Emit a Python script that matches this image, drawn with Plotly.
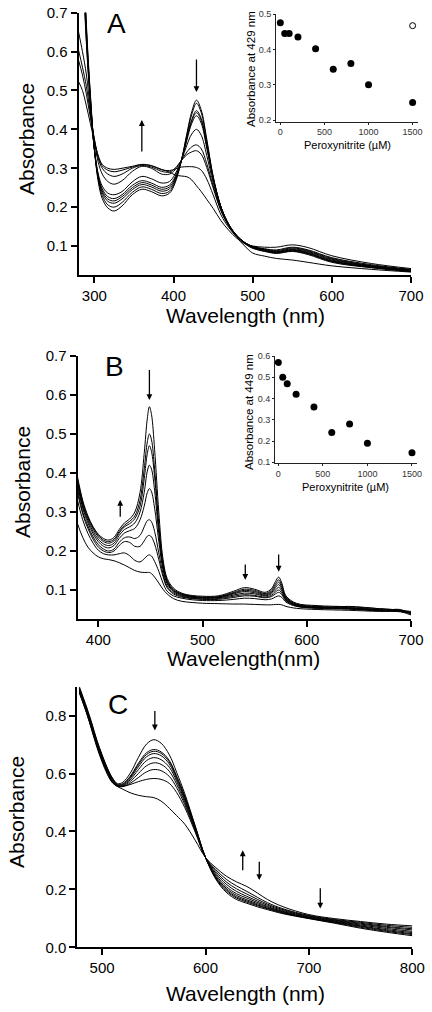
import plotly.graph_objects as go

W, H = 432, 1012
FONT = "Arial, Liberation Sans, sans-serif"

# ---------------- Panel A data ----------------
WL_A = [280, 285, 290, 295, 300, 305, 310, 317, 325, 335, 348, 360, 372, 385, 395,
        402, 410, 417, 423, 429, 435, 442, 450, 460, 470, 480, 490, 500,
        515, 530, 550, 570, 600, 650, 700]
A1 = [1.3, 0.95, 0.67, 0.49, 0.35, 0.265, 0.222, 0.198, 0.19, 0.203, 0.232, 0.246, 0.24, 0.229, 0.236,
      0.262, 0.32, 0.39, 0.445, 0.475, 0.45, 0.375, 0.28, 0.2, 0.152, 0.122, 0.1, 0.082,
      0.074, 0.068, 0.064, 0.058, 0.049, 0.04, 0.033]
A2 = [1.25, 0.93, 0.66, 0.485, 0.35, 0.27, 0.23, 0.206, 0.20, 0.212, 0.238, 0.252, 0.246, 0.235, 0.241,
      0.266, 0.32, 0.387, 0.438, 0.467, 0.443, 0.37, 0.279, 0.2, 0.154, 0.125, 0.106, 0.094,
      0.086, 0.081, 0.086, 0.078, 0.058, 0.044, 0.034]
A3 = [1.2, 0.9, 0.65, 0.48, 0.35, 0.275, 0.237, 0.215, 0.21, 0.221, 0.245, 0.258, 0.252, 0.241, 0.247,
      0.27, 0.32, 0.38, 0.425, 0.448, 0.428, 0.36, 0.276, 0.2, 0.155, 0.126, 0.107, 0.095,
      0.087, 0.082, 0.087, 0.08, 0.06, 0.045, 0.035]
A4 = [1.15, 0.88, 0.64, 0.475, 0.35, 0.278, 0.242, 0.221, 0.216, 0.227, 0.25, 0.263, 0.257, 0.246, 0.252,
      0.274, 0.32, 0.377, 0.421, 0.443, 0.423, 0.357, 0.275, 0.2, 0.155, 0.126, 0.108, 0.096,
      0.088, 0.083, 0.089, 0.081, 0.061, 0.046, 0.035]
A5 = [1.1, 0.86, 0.63, 0.47, 0.35, 0.28, 0.247, 0.227, 0.222, 0.232, 0.256, 0.268, 0.262, 0.251, 0.257,
      0.278, 0.32, 0.373, 0.415, 0.435, 0.416, 0.352, 0.273, 0.2, 0.155, 0.127, 0.108, 0.097,
      0.089, 0.084, 0.09, 0.082, 0.062, 0.047, 0.036]
A6 = [1.05, 0.83, 0.62, 0.465, 0.35, 0.285, 0.254, 0.236, 0.232, 0.24, 0.265, 0.279, 0.273, 0.262, 0.266,
      0.285, 0.32, 0.36, 0.388, 0.40, 0.385, 0.333, 0.264, 0.196, 0.154, 0.127, 0.109, 0.098,
      0.09, 0.085, 0.091, 0.084, 0.064, 0.048, 0.037]
A7 = [0.651, 0.6, 0.54, 0.45, 0.37, 0.315, 0.285, 0.266, 0.259, 0.268, 0.292, 0.305, 0.3, 0.285, 0.285,
      0.296, 0.32, 0.342, 0.355, 0.36, 0.35, 0.312, 0.255, 0.192, 0.152, 0.126, 0.109, 0.098,
      0.091, 0.086, 0.093, 0.086, 0.066, 0.049, 0.038]
A8 = [0.604, 0.56, 0.51, 0.44, 0.375, 0.325, 0.3, 0.285, 0.279, 0.285, 0.3, 0.307, 0.303, 0.292, 0.29,
      0.3, 0.32, 0.335, 0.342, 0.345, 0.336, 0.302, 0.25, 0.19, 0.151, 0.126, 0.109, 0.099,
      0.092, 0.088, 0.095, 0.088, 0.068, 0.05, 0.039]
A9 = [0.578, 0.54, 0.49, 0.43, 0.375, 0.33, 0.306, 0.295, 0.291, 0.295, 0.303, 0.309, 0.306, 0.296, 0.294,
      0.298, 0.303, 0.304, 0.304, 0.302, 0.295, 0.272, 0.232, 0.18, 0.147, 0.124, 0.108, 0.099,
      0.093, 0.09, 0.097, 0.09, 0.07, 0.052, 0.04]
A10 = [0.523, 0.5, 0.46, 0.415, 0.37, 0.332, 0.31, 0.3, 0.297, 0.3, 0.305, 0.31, 0.307, 0.297, 0.29,
       0.283, 0.28, 0.278, 0.27, 0.255, 0.24, 0.22, 0.197, 0.165, 0.14, 0.12, 0.106, 0.1,
       0.097, 0.097, 0.103, 0.096, 0.075, 0.055, 0.042]
SPECTRA_A = [A1, A2, A3, A4, A5, A6, A7, A8, A9, A10]

# Inset A
PN_A = [0, 50, 100, 200, 400, 600, 800, 1000, 1500]
ABS429 = [0.475, 0.445, 0.445, 0.435, 0.402, 0.344, 0.36, 0.30, 0.25]
PN_A_OPEN = [1500]
ABS429_OPEN = [0.467]

# ---------------- Panel B data ----------------
WL_B = [380, 385, 390, 395, 400, 405, 410, 415, 420, 425, 430, 435, 440, 444, 447, 449, 451, 454,
        458, 462, 466, 472, 480, 490, 500, 515, 530, 540, 550, 560, 566, 570, 573, 576, 580,
        590, 610, 640, 670, 690, 700]
B1 = [0.39, 0.33, 0.29, 0.262, 0.243, 0.232, 0.228, 0.235, 0.255, 0.272, 0.282, 0.3, 0.35, 0.45, 0.54, 0.57, 0.55, 0.46,
      0.3, 0.18, 0.13, 0.105, 0.092, 0.086, 0.084, 0.085, 0.097, 0.106, 0.102, 0.094, 0.103, 0.122, 0.133, 0.118, 0.085,
      0.066, 0.06, 0.057, 0.052, 0.048, 0.045]
B2 = [0.385, 0.325, 0.287, 0.26, 0.24, 0.228, 0.224, 0.23, 0.25, 0.266, 0.276, 0.29, 0.33, 0.41, 0.48, 0.50, 0.485, 0.41,
      0.27, 0.17, 0.125, 0.102, 0.09, 0.084, 0.082, 0.083, 0.094, 0.102, 0.099, 0.091, 0.099, 0.116, 0.126, 0.112, 0.082,
      0.064, 0.058, 0.055, 0.05, 0.046, 0.043]
B3 = [0.38, 0.32, 0.283, 0.256, 0.236, 0.224, 0.22, 0.226, 0.246, 0.262, 0.27, 0.283, 0.315, 0.385, 0.45, 0.47, 0.455, 0.39,
      0.26, 0.165, 0.122, 0.1, 0.089, 0.083, 0.081, 0.082, 0.092, 0.099, 0.096, 0.089, 0.096, 0.111, 0.12, 0.107, 0.08,
      0.063, 0.057, 0.054, 0.049, 0.046, 0.042]
B4 = [0.375, 0.315, 0.278, 0.25, 0.23, 0.218, 0.214, 0.22, 0.24, 0.255, 0.262, 0.272, 0.3, 0.35, 0.405, 0.42, 0.41, 0.355,
      0.245, 0.16, 0.12, 0.098, 0.088, 0.082, 0.08, 0.081, 0.09, 0.096, 0.093, 0.087, 0.093, 0.106, 0.114, 0.102, 0.078,
      0.062, 0.056, 0.053, 0.048, 0.045, 0.041]
B5 = [0.37, 0.31, 0.272, 0.244, 0.224, 0.212, 0.208, 0.214, 0.232, 0.246, 0.252, 0.258, 0.28, 0.315, 0.35, 0.36, 0.352, 0.31,
      0.225, 0.152, 0.116, 0.096, 0.086, 0.081, 0.079, 0.08, 0.087, 0.092, 0.09, 0.085, 0.09, 0.1, 0.107, 0.097, 0.076,
      0.061, 0.055, 0.052, 0.048, 0.045, 0.04]
B6 = [0.36, 0.3, 0.264, 0.236, 0.216, 0.205, 0.2, 0.205, 0.222, 0.234, 0.236, 0.232, 0.24, 0.262, 0.278, 0.28, 0.275, 0.25,
      0.195, 0.142, 0.11, 0.093, 0.084, 0.079, 0.077, 0.078, 0.084, 0.088, 0.086, 0.082, 0.086, 0.095, 0.1, 0.092, 0.074,
      0.06, 0.054, 0.052, 0.047, 0.046, 0.04]
B7 = [0.35, 0.295, 0.258, 0.23, 0.21, 0.2, 0.196, 0.2, 0.214, 0.224, 0.222, 0.212, 0.212, 0.226, 0.238, 0.24, 0.236, 0.218,
      0.178, 0.135, 0.106, 0.09, 0.082, 0.078, 0.076, 0.076, 0.081, 0.085, 0.084, 0.08, 0.083, 0.09, 0.094, 0.088, 0.072,
      0.059, 0.054, 0.058, 0.052, 0.048, 0.041]
B8 = [0.33, 0.28, 0.245, 0.22, 0.202, 0.193, 0.19, 0.19, 0.193, 0.195, 0.188, 0.176, 0.172, 0.18, 0.188, 0.19, 0.187, 0.173,
      0.148, 0.118, 0.097, 0.085, 0.079, 0.075, 0.073, 0.073, 0.076, 0.079, 0.078, 0.075, 0.077, 0.082, 0.085, 0.081, 0.069,
      0.058, 0.053, 0.051, 0.047, 0.05, 0.038]
B9 = [0.27, 0.235, 0.21, 0.195, 0.185, 0.18, 0.178, 0.175, 0.17, 0.164, 0.157, 0.15, 0.146, 0.145, 0.145, 0.145, 0.142, 0.133,
      0.118, 0.102, 0.09, 0.078, 0.071, 0.068, 0.066, 0.065, 0.064, 0.064, 0.063, 0.062, 0.062, 0.063, 0.063, 0.062, 0.058,
      0.053, 0.05, 0.048, 0.045, 0.044, 0.036]
SPECTRA_B = [B1, B2, B3, B4, B5, B6, B7, B8, B9]

# Inset B
PN_B = [0, 50, 100, 200, 400, 600, 800, 1000, 1500]
ABS449 = [0.57, 0.50, 0.47, 0.42, 0.36, 0.24, 0.28, 0.19, 0.145]

# ---------------- Panel C data ----------------
WL_C = [478, 485, 490, 495, 500, 505, 510, 515, 520, 527, 535, 543, 550, 557, 565, 572, 580, 590, 600,
        610, 620, 630, 640, 650, 660, 675, 700, 725, 750, 775, 800]
C1 = [0.9, 0.83, 0.775, 0.715, 0.665, 0.62, 0.585, 0.565, 0.57, 0.6, 0.655, 0.702, 0.717, 0.705, 0.665, 0.605, 0.53, 0.42, 0.31,
      0.235, 0.19, 0.165, 0.152, 0.14, 0.13, 0.116, 0.099, 0.083, 0.066, 0.052, 0.04]
C2 = [0.895, 0.825, 0.77, 0.712, 0.662, 0.618, 0.583, 0.562, 0.565, 0.59, 0.635, 0.672, 0.683, 0.675, 0.645, 0.592, 0.522, 0.418, 0.31,
      0.238, 0.195, 0.17, 0.156, 0.144, 0.133, 0.118, 0.1, 0.085, 0.069, 0.055, 0.044]
C3 = [0.893, 0.823, 0.768, 0.71, 0.66, 0.616, 0.581, 0.561, 0.563, 0.587, 0.63, 0.666, 0.677, 0.67, 0.64, 0.588, 0.518, 0.416, 0.31,
      0.241, 0.199, 0.174, 0.16, 0.147, 0.135, 0.12, 0.101, 0.087, 0.072, 0.058, 0.047]
C4 = [0.89, 0.82, 0.765, 0.707, 0.657, 0.613, 0.578, 0.559, 0.56, 0.583, 0.623, 0.658, 0.669, 0.662, 0.633, 0.582, 0.513, 0.413, 0.31,
      0.245, 0.204, 0.179, 0.164, 0.151, 0.138, 0.122, 0.102, 0.088, 0.074, 0.061, 0.051]
C5 = [0.888, 0.818, 0.762, 0.704, 0.654, 0.61, 0.576, 0.558, 0.558, 0.578, 0.613, 0.645, 0.655, 0.648, 0.622, 0.574, 0.507, 0.41, 0.31,
      0.25, 0.21, 0.185, 0.17, 0.155, 0.141, 0.124, 0.104, 0.09, 0.077, 0.065, 0.055]
C6 = [0.885, 0.815, 0.758, 0.7, 0.65, 0.607, 0.573, 0.557, 0.556, 0.572, 0.6, 0.627, 0.637, 0.632, 0.608, 0.564, 0.5, 0.407, 0.31,
      0.256, 0.218, 0.193, 0.176, 0.16, 0.145, 0.127, 0.106, 0.092, 0.08, 0.069, 0.06]
C7 = [0.882, 0.812, 0.755, 0.697, 0.647, 0.604, 0.571, 0.556, 0.555, 0.566, 0.586, 0.606, 0.614, 0.61, 0.59, 0.552, 0.492, 0.403, 0.31,
      0.262, 0.226, 0.202, 0.184, 0.166, 0.149, 0.13, 0.108, 0.094, 0.083, 0.072, 0.064]
C8 = [0.88, 0.81, 0.752, 0.694, 0.644, 0.601, 0.569, 0.556, 0.556, 0.562, 0.572, 0.58, 0.583, 0.58, 0.566, 0.535, 0.482, 0.398, 0.31,
      0.268, 0.235, 0.212, 0.193, 0.173, 0.154, 0.133, 0.11, 0.096, 0.086, 0.076, 0.069]
C9 = [0.878, 0.808, 0.75, 0.69, 0.64, 0.598, 0.568, 0.555, 0.546, 0.534, 0.525, 0.52, 0.517, 0.505, 0.48, 0.455, 0.425, 0.37, 0.31,
      0.275, 0.246, 0.226, 0.21, 0.188, 0.165, 0.14, 0.113, 0.099, 0.089, 0.08, 0.074]
SPECTRA_C = [C1, C2, C3, C4, C5, C6, C7, C8, C9]

# Tick labels
YT_AB = [0.1, 0.2, 0.3, 0.4, 0.5, 0.6, 0.7]
XT_A = [300, 400, 500, 600, 700]
XT_B = [400, 500, 600, 700]
XT_C = [500, 600, 700, 800]
YT_C = [0.0, 0.2, 0.4, 0.6, 0.8]
XT_INS = [0, 500, 1000, 1500]
YT_INS_A = [0.2, 0.3, 0.4, 0.5]
YT_INS_B = [0.1, 0.2, 0.3, 0.4, 0.5, 0.6]


def dx(px):
    return px / W


def dy(py):
    return 1 - py / H


fig = go.Figure()

for s in SPECTRA_A:
    fig.add_trace(go.Scatter(x=WL_A, y=s, mode="lines", line=dict(color="black", width=1, shape="spline"),
                             xaxis="x", yaxis="y", hoverinfo="skip"))
fig.add_trace(go.Scatter(x=PN_A, y=ABS429, mode="markers", marker=dict(color="black", size=7),
                         xaxis="x2", yaxis="y2"))
fig.add_trace(go.Scatter(x=PN_A_OPEN, y=ABS429_OPEN, mode="markers",
                         marker=dict(color="black", size=6, symbol="circle-open", line=dict(width=1)),
                         xaxis="x2", yaxis="y2"))
for s in SPECTRA_B:
    fig.add_trace(go.Scatter(x=WL_B, y=s, mode="lines", line=dict(color="black", width=1, shape="spline"),
                             xaxis="x3", yaxis="y3", hoverinfo="skip"))
fig.add_trace(go.Scatter(x=PN_B, y=ABS449, mode="markers", marker=dict(color="black", size=7),
                         xaxis="x4", yaxis="y4"))
for s in SPECTRA_C:
    fig.add_trace(go.Scatter(x=WL_C, y=s, mode="lines", line=dict(color="black", width=1, shape="spline"),
                             xaxis="x5", yaxis="y5", hoverinfo="skip"))


def main_axis(domain, rng, tickvals, anchor, fmt=None):
    d = dict(domain=domain, range=rng, tickvals=tickvals, showgrid=False, zeroline=False,
             showline=True, linecolor="black", linewidth=2, ticks="outside", ticklen=6,
             tickwidth=2, tickcolor="black", tickfont=dict(family=FONT, size=15, color="black"),
             automargin=False, anchor=anchor, fixedrange=True)
    if fmt:
        d["tickformat"] = fmt
    return d


def inset_axis(domain, rng, tickvals, anchor, fmt=None):
    d = dict(domain=domain, range=rng, tickvals=tickvals, showgrid=False, zeroline=False,
             showline=True, linecolor="#222", linewidth=1, ticks="outside", ticklen=2,
             tickwidth=1, tickcolor="#222", tickfont=dict(family=FONT, size=9, color="#333"),
             automargin=False, anchor=anchor, fixedrange=True)
    if fmt:
        d["tickformat"] = fmt
    return d


fig.update_layout(
    width=W, height=H, margin=dict(l=0, r=0, t=0, b=0, pad=0, autoexpand=False),
    paper_bgcolor="white", plot_bgcolor="rgba(0,0,0,0)", showlegend=False,
    font=dict(family=FONT, color="black"),
    xaxis=main_axis([dx(78.5), dx(411)], [280, 700], XT_A, "y"),
    yaxis=main_axis([dy(275.3), dy(12.7)], [0.0247, 0.7], YT_AB, "x", ".1f"),
    xaxis2=inset_axis([dx(276), dx(418)], [-49, 1561], XT_INS, "y2"),
    yaxis2=inset_axis([dy(121.5), dy(14)], [0.196, 0.5], YT_INS_A, "x2", ".1f"),
    xaxis3=main_axis([dx(77.5), dx(411)], [380, 700], XT_B, "y3"),
    yaxis3=main_axis([dy(618.7), dy(356)], [0.0264, 0.7], YT_AB, "x3", ".1f"),
    xaxis4=inset_axis([dx(275), dx(416.7)], [-37, 1553], XT_INS, "y4"),
    yaxis4=inset_axis([dy(462.7), dy(356)], [0.098, 0.6], YT_INS_B, "x4", ".1f"),
    xaxis5=main_axis([dx(77.3), dx(412.3)], [476, 800], XT_C, "y5"),
    yaxis5=main_axis([dy(947.3), dy(686.7)], [0.0, 0.9], YT_C, "x5", ".1f"),
)

ann = []


def text(px, py, t, size, angle=0):
    ann.append(dict(xref="paper", yref="paper", x=dx(px), y=dy(py), text=t, showarrow=False,
                    xanchor="center", yanchor="middle", textangle=angle, borderpad=0,
                    font=dict(family=FONT, size=size, color="black")))


# Panel letters
text(117, 24, "A", 28)
text(114, 366, "B", 28)
text(118, 704, "C", 28)
# Axis titles
text(27, 139, "Absorbance", 21, -90)
text(245, 315, "Wavelength (nm)", 21)
text(22, 482, "Absorbance", 21, -90)
text(244, 658, "Wavelength(nm)", 21)
text(16, 812, "Absorbance", 21, -90)
text(245, 993, "Wavelength (nm)", 21)
# Inset titles
text(251, 69, "Absorbance at 429 nm", 11.5, -90)
text(347, 145, "Peroxynitrite (µM)", 11)
text(249, 412, "Absorbance at 449 nm", 11.5, -90)
text(345, 487, "Peroxynitrite (µM)", 11)


def arrow(xr, yr, x, y_tail, y_head):
    ann.append(dict(xref=xr, yref=yr, axref=xr, ayref=yr, x=x, y=y_head, ax=x, ay=y_tail,
                    text="", showarrow=True, arrowhead=2, arrowsize=0.9, arrowwidth=1.3,
                    arrowcolor="black", standoff=0, startstandoff=0))


arrow("x", "y", 360, 0.339, 0.424)
arrow("x", "y", 429, 0.5835, 0.496)
arrow("x3", "y3", 421, 0.284, 0.331)
arrow("x3", "y3", 449, 0.668, 0.587)
arrow("x3", "y3", 541, 0.169, 0.126)
arrow("x3", "y3", 573, 0.195, 0.147)
arrow("x5", "y5", 551, 0.821, 0.749)
arrow("x5", "y5", 636, 0.261, 0.335)
arrow("x5", "y5", 652, 0.301, 0.232)
arrow("x5", "y5", 711, 0.209, 0.134)

fig.update_layout(annotations=ann)

RESET_PAGE = ("document.documentElement.style.margin='0';document.body.style.margin='0';"
              "document.body.style.padding='0';document.documentElement.style.overflow='hidden';"
              "document.body.style.overflow='hidden';")
fig.write_html("out.html", config={"displayModeBar": False}, post_script=RESET_PAGE)
